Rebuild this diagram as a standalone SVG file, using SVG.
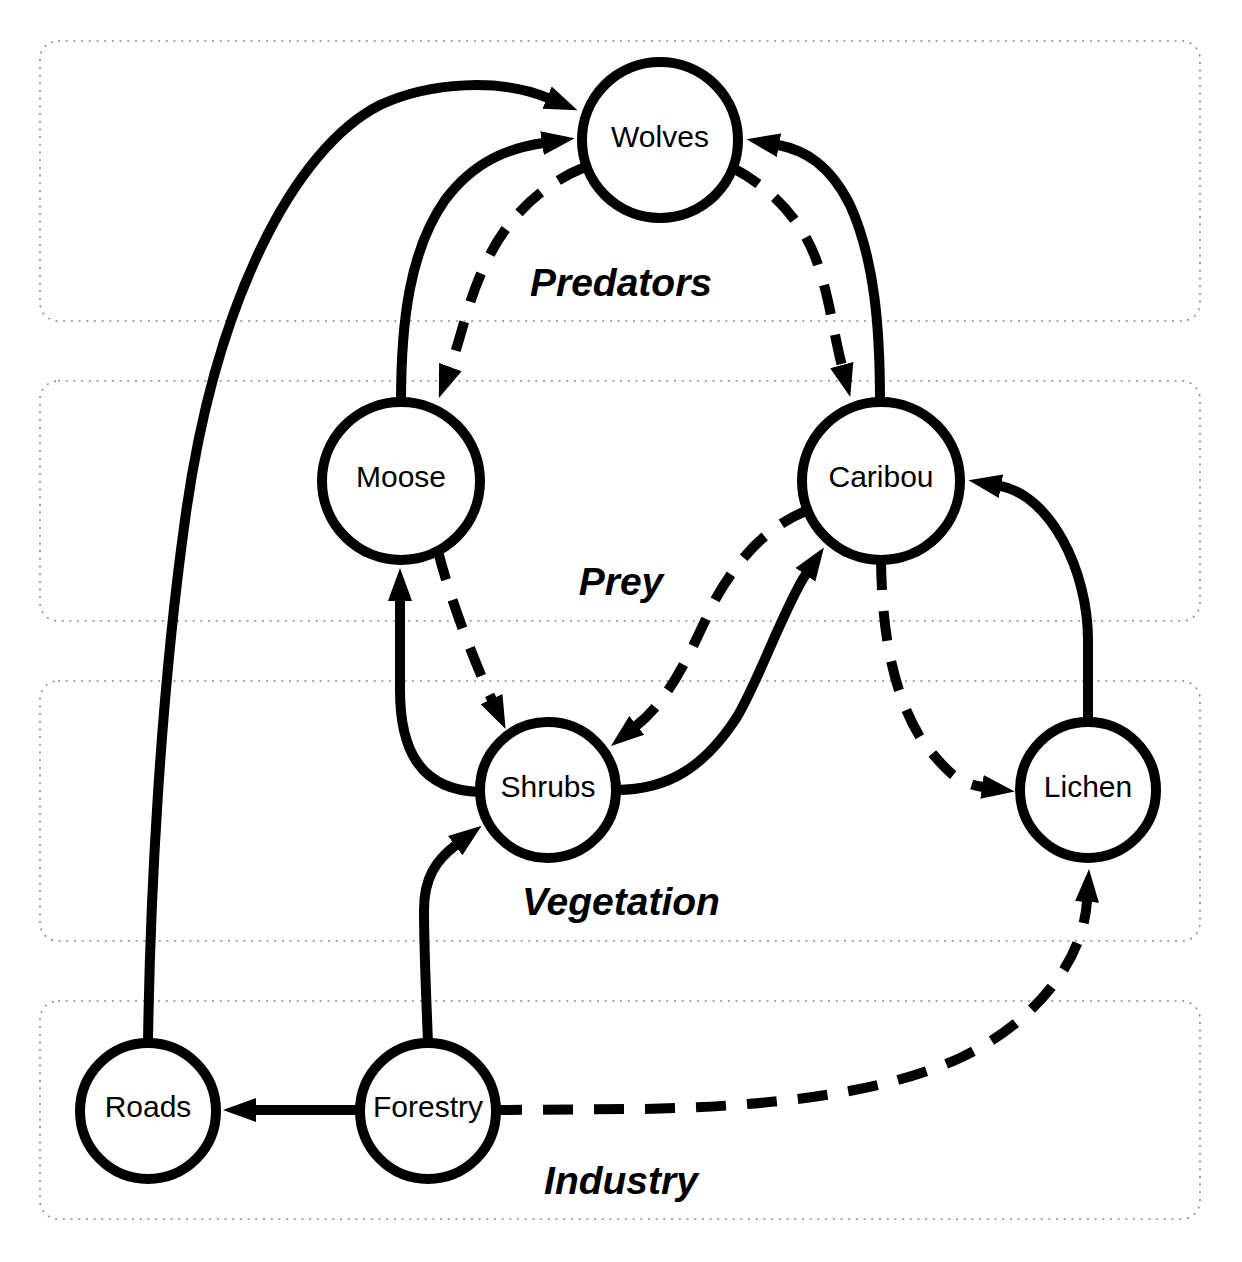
<svg xmlns="http://www.w3.org/2000/svg" width="1242" height="1262" viewBox="0 0 1242 1262">
<style>
.cluster rect{fill:none;stroke:#8a8a8a;stroke-width:1.6;stroke-dasharray:2 5.7}
.clabel{font-family:"Liberation Sans",Arial,sans-serif;font-weight:bold;font-style:italic;font-size:39px;text-anchor:middle;fill:#000}
.node circle{fill:#fff;stroke:#000;stroke-width:10}
.node text{font-family:"Liberation Sans",Arial,sans-serif;font-size:30px;text-anchor:middle;fill:#000}
.edge{fill:none;stroke:#000;stroke-width:10;marker-end:url(#ah)}
.dashed{stroke-dasharray:30 21}
</style>
<defs>
<marker id="ah" markerUnits="userSpaceOnUse" markerWidth="34" markerHeight="26" viewBox="0 0 34 26" refX="1" refY="13" orient="auto"><path d="M0,1 L33,13 L0,25 z" fill="#000"/></marker>
</defs>
<rect width="1242" height="1262" fill="#fff"/>
<g id="clusters">
<g id="cluster_predators" class="cluster"><rect x="40" y="41" width="1160" height="280" rx="18" ry="18"/><text class="clabel" x="621" y="296">Predators</text></g>
<g id="cluster_prey" class="cluster"><rect x="40" y="381" width="1160" height="240" rx="18" ry="18"/><text class="clabel" x="621" y="595">Prey</text></g>
<g id="cluster_vegetation" class="cluster"><rect x="40" y="681" width="1160" height="260" rx="18" ry="18"/><text class="clabel" x="621" y="915">Vegetation</text></g>
<g id="cluster_industry" class="cluster"><rect x="40" y="1001" width="1160" height="218" rx="18" ry="18"/><text class="clabel" x="621" y="1194">Industry</text></g>
</g>
<g id="connectors">
<path id="roads_wolves" class="edge" d="M148,1043 C150,900 160,700 185,520 C215,300 295,148 380,105 C430,82 500,78 548,98"/>
<path id="moose_wolves" class="edge" d="M401,402 C401,320 410,250 445,200 C475,160 510,148 543,143"/>
<path id="wolves_moose" class="edge dashed" d="M585,167 C540,185 505,220 485,265 C468,300 460,341 450,368"/>
<path id="caribou_wolves" class="edge" d="M880,402 C880,330 875,260 850,205 C830,165 805,150 778,145"/>
<path id="wolves_caribou" class="edge dashed" d="M733,168 C775,190 805,225 818,265 C830,300 834,336 842,366"/>
<path id="caribou_shrubs" class="edge dashed" d="M808,510 C770,525 740,555 715,600 C695,640 675,695 636,726"/>
<path id="shrubs_caribou" class="edge" d="M616,790 C670,790 705,765 735,720 C755,690 785,605 806,574"/>
<path id="moose_shrubs" class="edge dashed" d="M438,551 C450,600 477,668 492,700"/>
<path id="shrubs_moose" class="edge" d="M480,792 C420,790 400,750 400,690 L400,600"/>
<path id="caribou_lichen" class="edge dashed" d="M881,560 C882,640 895,700 925,745 C945,768 955,783 983,787"/>
<path id="lichen_caribou" class="edge" d="M1088,722 L1088,640 C1088,570 1050,495 1000,486"/>
<path id="forestry_shrubs" class="edge" d="M428,1043 C426,990 424,950 424,910 C424,878 436,860 456,845"/>
<path id="forestry_roads" class="edge" d="M361,1110 L255,1110"/>
<path id="forestry_lichen" class="edge dashed" d="M492,1110 L640,1109 C760,1107 880,1095 960,1058 C1030,1025 1083,965 1087,901"/>
</g>
<g id="nodes">
<g id="wolves" class="node"><circle cx="660" cy="140" r="78"/><text x="660" y="147">Wolves</text></g>
<g id="moose" class="node"><circle cx="401" cy="481" r="79"/><text x="401" y="487">Moose</text></g>
<g id="caribou" class="node"><circle cx="881" cy="481" r="79"/><text x="881" y="487">Caribou</text></g>
<g id="shrubs" class="node"><circle cx="548" cy="790" r="68"/><text x="548" y="797">Shrubs</text></g>
<g id="lichen" class="node"><circle cx="1088" cy="790" r="68"/><text x="1088" y="797">Lichen</text></g>
<g id="roads" class="node"><circle cx="148" cy="1111" r="68"/><text x="148" y="1117">Roads</text></g>
<g id="forestry" class="node"><circle cx="428" cy="1111" r="68"/><text x="428" y="1117">Forestry</text></g>
</g>
</svg>
